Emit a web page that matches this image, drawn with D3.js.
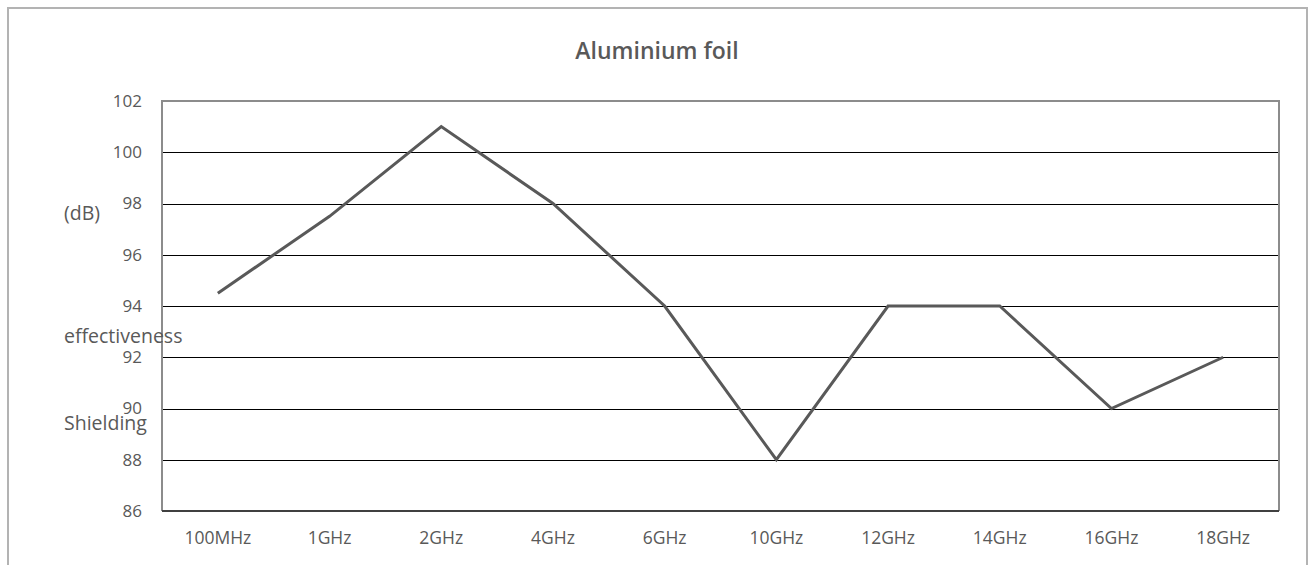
<!DOCTYPE html>
<html>
<head>
<meta charset="utf-8">
<script src="https://cdn.jsdelivr.net/npm/d3@7"></script>
<style>
  body { margin: 0; background: #fff; }
  svg text { font-family: "Open Sans", "DejaVu Sans", sans-serif; fill: #595959; }
</style>
</head>
<body>
<figure id="line" style="margin:0"></figure>
<script>
const categories = ["100MHz", "1GHz", "2GHz", "4GHz", "6GHz", "10GHz", "12GHz", "14GHz", "16GHz", "18GHz"];
const shielding = [94.5, 97.5, 101, 98, 94, 88, 94, 94, 90, 92];
const yTicks = [86, 88, 90, 92, 94, 96, 98, 100, 102];
const chartTitle = "Aluminium foil";
const yTitleLines = ["(dB)", "effectiveness", "Shielding"];

const width = 1313, height = 565;
const plot = { left: 162, top: 101, right: 1279, bottom: 511 };

const svg = d3.select("figure#line")
  .append("svg")
  .attr("width", width)
  .attr("height", height);

// outer border (bottom runs off the page)
svg.append("path")
  .attr("d", "M8,570 V8 H1307 V570")
  .attr("fill", "none")
  .attr("stroke", "#b3b3b3")
  .attr("stroke-width", 2);

const x = d3.scaleBand()
  .domain(categories)
  .range([plot.left, plot.right]);

const y = d3.scaleLinear()
  .domain([86, 102])
  .range([plot.bottom, plot.top]);

// gridlines
svg.append("g")
  .selectAll("line")
  .data(yTicks.slice(1, -1))
  .enter()
  .append("line")
  .attr("x1", plot.left)
  .attr("x2", plot.right)
  .attr("y1", d => Math.round(y(d)) + 0.5)
  .attr("y2", d => Math.round(y(d)) + 0.5)
  .attr("stroke", "#000")
  .attr("stroke-width", 1);

// plot frame
svg.append("path")
  .attr("d", `M${plot.left},${plot.bottom} V${plot.top} H${plot.right} V${plot.bottom}`)
  .attr("fill", "none")
  .attr("stroke", "#8c8c8c")
  .attr("stroke-width", 2);

svg.append("line")
  .attr("x1", plot.left)
  .attr("x2", plot.right)
  .attr("y1", plot.bottom)
  .attr("y2", plot.bottom)
  .attr("stroke", "#404040")
  .attr("stroke-width", 2);

// y axis labels
svg.append("g")
  .attr("transform", `translate(${plot.left},0)`)
  .call(d3.axisLeft(y).tickValues(yTicks).tickSize(0).tickPadding(20))
  .call(g => g.select(".domain").remove())
  .selectAll("text")
  .style("font-size", "17px")
  .attr("fill", "#595959");

// x axis labels
svg.append("g")
  .attr("transform", `translate(0,${plot.bottom})`)
  .call(d3.axisBottom(x).tickSize(0).tickPadding(21))
  .call(g => g.select(".domain").remove())
  .selectAll("text")
  .style("font-size", "17.5px")
  .attr("fill", "#595959");

// the series line
const line = d3.line()
  .x((d, i) => x(categories[i]) + x.bandwidth() / 2)
  .y(d => y(d));

svg.append("path")
  .datum(shielding)
  .attr("d", line)
  .attr("fill", "none")
  .attr("stroke", "#595959")
  .attr("stroke-width", 3)
  .attr("stroke-linejoin", "miter");

// title
svg.append("text")
  .attr("x", 657)
  .attr("y", 59)
  .attr("text-anchor", "middle")
  .style("font-size", "23px")
  .style("font-weight", "600")
  .text(chartTitle);

// y title, stacked the way the original shows it
const titleY = [220, 343, 430];
svg.append("g")
  .selectAll("text")
  .data(yTitleLines)
  .enter()
  .append("text")
  .attr("x", 64)
  .attr("y", (d, i) => titleY[i])
  .style("font-size", "19.5px")
  .text(d => d);
</script>
</body>
</html>
